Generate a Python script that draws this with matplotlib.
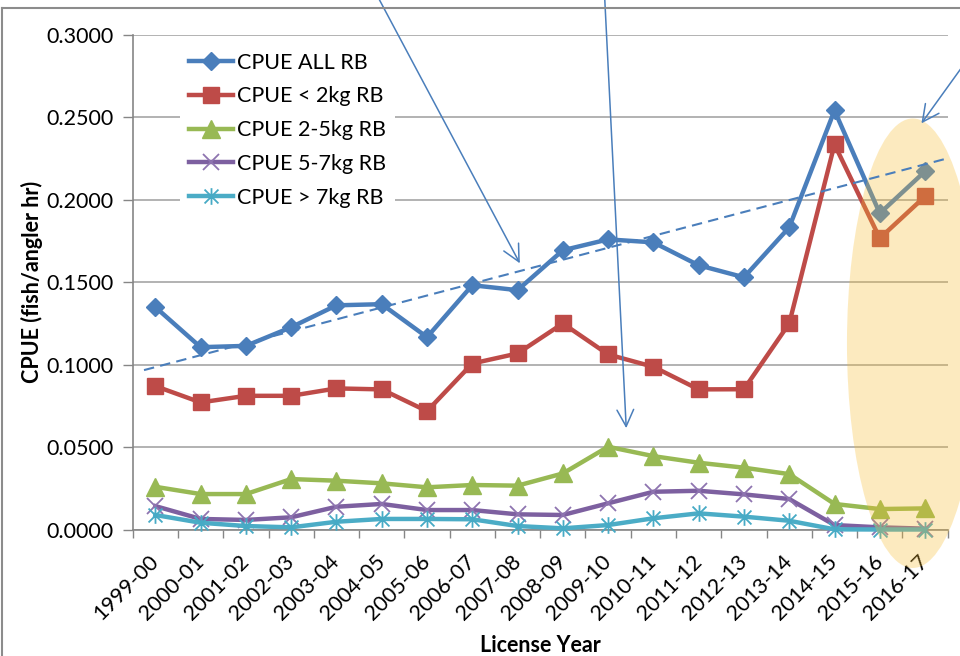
import numpy as np
import matplotlib
matplotlib.use("Agg")
import matplotlib.pyplot as plt
from matplotlib.patches import Ellipse
from matplotlib.lines import Line2D
from matplotlib.path import Path

plt.rcParams['font.family'] = ['Lato', 'DejaVu Sans']

years = ['1999-00', '2000-01', '2001-02', '2002-03', '2003-04', '2004-05',
         '2005-06', '2006-07', '2007-08', '2008-09', '2009-10', '2010-11',
         '2011-12', '2012-13', '2013-14', '2014-15', '2015-16', '2016-17']

cpue_all = [0.1349, 0.1106, 0.1114, 0.1227, 0.1360, 0.1367, 0.1167, 0.1482, 0.1452,
            0.1694, 0.1760, 0.1742, 0.1603, 0.1530, 0.1833, 0.2542, 0.1918, 0.2173]
cpue_lt2 = [0.0870, 0.0771, 0.0811, 0.0811, 0.0856, 0.0850, 0.0718, 0.1007, 0.1068,
            0.1250, 0.1062, 0.0987, 0.0850, 0.0851, 0.1250, 0.2336, 0.1767, 0.2021]
cpue_2_5 = [0.0259, 0.0215, 0.0215, 0.0306, 0.0296, 0.0280, 0.0256, 0.0270, 0.0266,
            0.0340, 0.0502, 0.0445, 0.0405, 0.0375, 0.0336, 0.0155, 0.0124, 0.0128]
cpue_5_7 = [0.0142, 0.0064, 0.0058, 0.0074, 0.0138, 0.0155, 0.0118, 0.0118, 0.0092,
            0.0088, 0.0159, 0.0229, 0.0235, 0.0213, 0.0185, 0.0027, 0.0013, 0.0005]
cpue_gt7 = [0.0088, 0.0041, 0.0021, 0.0013, 0.0047, 0.0064, 0.0064, 0.0062, 0.0021,
            0.0007, 0.0027, 0.0068, 0.0098, 0.0078, 0.0053, 0.0001, 0.0000, 0.0000]

labels = ['CPUE ALL RB', 'CPUE < 2kg RB', 'CPUE 2-5kg RB', 'CPUE 5-7kg RB', 'CPUE > 7kg RB']

# hand-drawn dashed trend line (category index, value) at its two ends
trend_x = [-0.25, 17.5]
trend_y = [0.0967, 0.2252]

# annotation arrows: tip in data units (category index, value)
arrow_tips = [(8.05, 0.1615), (10.4, 0.0615), (16.92, 0.2464)]

# asterisk marker: x plus a vertical bar
star = Path([(-0.5, -0.5), (0.5, 0.5), (-0.5, 0.5), (0.5, -0.5), (0, -0.6), (0, 0.6)],
            [Path.MOVETO, Path.LINETO, Path.MOVETO, Path.LINETO, Path.MOVETO, Path.LINETO])

fig = plt.figure(figsize=(9.6, 6.56), dpi=100)
ax = fig.add_axes([132.7 / 960, 126.5 / 656, 815 / 960, 494.5 / 656])

x = np.arange(len(years))
series = [
    (cpue_all, '#4A7EBB', '#4A7EBB', 'D', 9.0, 1.0),
    (cpue_lt2, '#BE4B48', '#BE4B48', 's', 11.5, 1.0),
    (cpue_2_5, '#98B954', '#98B954', '^', 12.5, 1.0),
    (cpue_5_7, '#7D60A0', '#8E74B0', 'x', 11.0, 1.3),
    (cpue_gt7, '#4BACC6', '#46AAC5', star, 12.0, 1.3),
]
for (vals, lc, mc, mk, ms, mew), lab in zip(series, labels):
    ax.plot(x, vals, color=lc, lw=3.2, marker=mk, ms=ms, mfc=mc, mec=mc, mew=mew,
            label=lab, clip_on=False, zorder=3)

ax.plot(trend_x, trend_y, color='#4A7EBB', lw=1.5, ls=(0, (5, 3)), zorder=6, clip_on=False)

ax.set_xlim(-0.5, len(years) - 0.5)
ax.set_ylim(0, 0.3)
ax.set_yticks(np.arange(0, 0.301, 0.05))
ax.set_yticklabels(['%.4f' % v for v in np.arange(0, 0.301, 0.05)])
ax.set_xticks(x)
ax.set_xticklabels(years, rotation=45, ha='right', va='center', rotation_mode='anchor')
ax.set_xticks(np.arange(-0.5, len(years), 1), minor=True)
ax.tick_params(axis='x', which='major', length=0, pad=21, labelsize=15.5)
ax.tick_params(axis='x', which='minor', length=6, color='#868686', width=1)
ax.tick_params(axis='y', length=7, color='#868686', width=1, pad=7, labelsize=15.5)

ax.grid(axis='y', color='#A6A6A6', lw=1.2)
ax.set_axisbelow(True)
for s in ['top', 'right']:
    ax.spines[s].set_visible(False)
for s in ['left', 'bottom']:
    ax.spines[s].set_color('#868686')
    ax.spines[s].set_linewidth(1.2)

ax.set_ylabel('CPUE (fish/angler hr)', fontsize=15.5, fontweight='bold')
ax.yaxis.label.set_va('center')
ax.yaxis.set_label_coords(-0.123, 0.5)
ax.set_xlabel('License Year', fontsize=15.5, fontweight='bold')
ax.xaxis.label.set_va('center')
ax.xaxis.set_label_coords(0.5, -0.2336)

leg = ax.legend(loc='upper left', bbox_to_anchor=(0.058, 0.982), fontsize=15.5,
                frameon=True, facecolor='white', edgecolor='none', framealpha=1,
                handlelength=2.05, handletextpad=0.2, labelspacing=0.64,
                borderpad=0.4, borderaxespad=0, fancybox=False)
leg.set_zorder(7)

# highlight ellipse over the last two seasons
ell = Ellipse((16.73, 0.113), 2.91, 0.2727, facecolor='#F8BC2D', alpha=0.3,
              edgecolor='none', zorder=5, clip_on=False)
ax.add_patch(ell)

# arrows from call-outs above the chart
tails = [(371, 672), (604, 672), (975, 607)]
for tip, tail in zip(arrow_tips, tails):
    ax.annotate('', xy=tip, xycoords='data', xytext=tail, textcoords='figure pixels',
                arrowprops=dict(arrowstyle='->,head_length=0.6,head_width=0.3',
                                color='#4A7EBB', lw=1.1, mutation_scale=20,
                                shrinkA=0, shrinkB=0),
                annotation_clip=False, zorder=8)

# chart frame
fig.add_artist(Line2D([1.5 / 960, 1.5 / 960], [0, 1 - 8 / 656], color='#8C8C8C', lw=1.5))
fig.add_artist(Line2D([1.5 / 960, 1], [1 - 8 / 656, 1 - 8 / 656], color='#8C8C8C', lw=1.5))

fig.savefig('out.png', dpi=100)
